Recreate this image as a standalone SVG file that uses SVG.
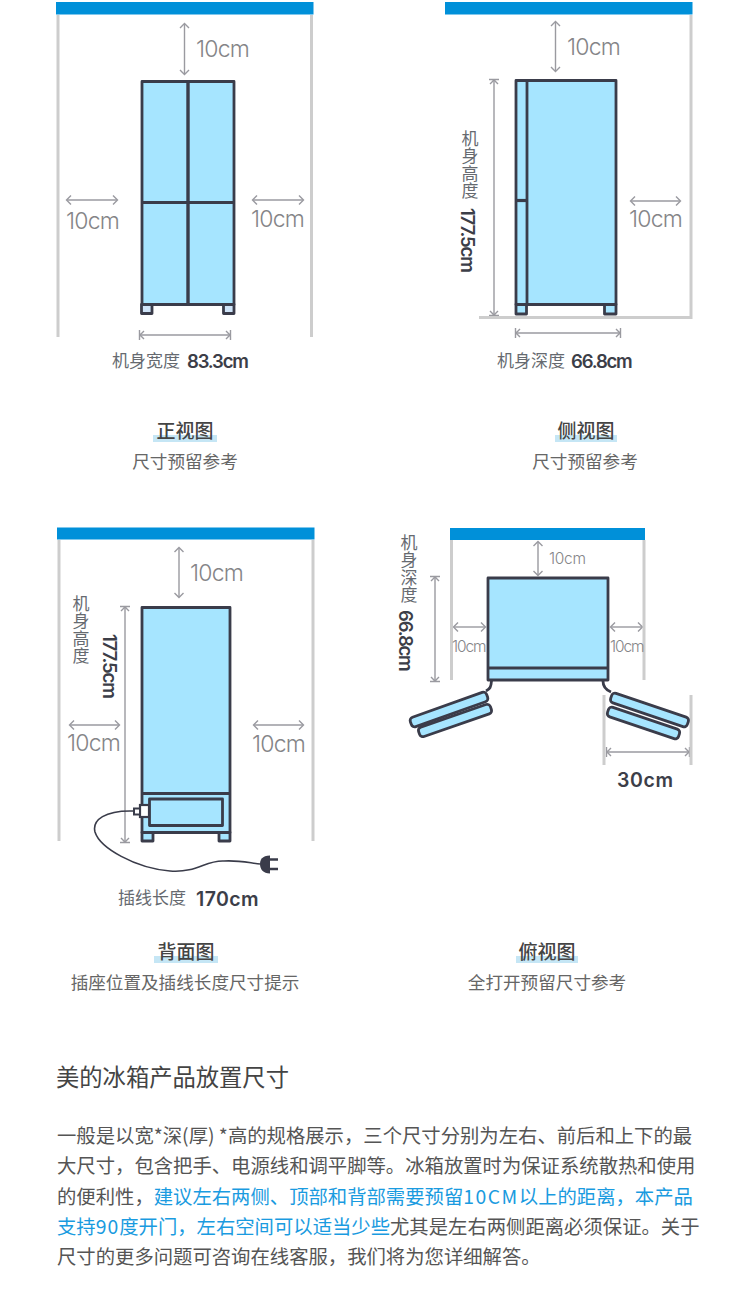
<svg xmlns="http://www.w3.org/2000/svg" width="750" height="1296" viewBox="0 0 750 1296">
<style>
text{font-family:Inter,"Liberation Sans","Noto Sans CJK SC",sans-serif;fill:#8a8a8c}
.cjk{font-family:"Noto Sans CJK SC",sans-serif}
.m{font-size:23px;letter-spacing:-.8px;font-weight:300;fill:#858588}
.s{font-size:15.500px;font-weight:300;fill:#858588}
.cap{font-size:17px;fill:#666a70}
.dim{font-size:18.500px;font-weight:600;fill:#3c3e48;letter-spacing:-1.200px}
.vl{font-size:17px;fill:#666a70;font-family:"Noto Sans CJK SC",sans-serif;writing-mode:vertical-rl;letter-spacing:.5px}
.ti{font-size:19px;font-weight:500;fill:#444;font-family:"Noto Sans CJK SC",sans-serif;text-anchor:middle}
.su{font-size:17.600px;fill:#666;font-family:"Noto Sans CJK SC",sans-serif;text-anchor:middle}
.b{font-size:19.350px;fill:#555;font-family:"Noto Sans CJK SC",sans-serif}
.bl{fill:#1a9be0}
.bar{fill:#0090d9}
.wall{stroke:#cdcdcd;stroke-width:3;fill:none}
.f{fill:#a6e5ff;stroke:#3a3c4a;stroke-width:2.800;stroke-linejoin:round}
.ln{stroke:#3a3c4a;stroke-width:2.800;fill:none}
.foot{fill:#cfe4f8;stroke:#3a3c4a;stroke-width:2.800;stroke-linejoin:round}
.a{stroke:#9a9aa0;stroke-width:1.400;fill:none;marker-start:url(#ah);marker-end:url(#ah)}
.t{stroke:#9a9aa0;stroke-width:1.400;fill:none;marker-start:url(#tb);marker-end:url(#tb)}
.hl{fill:#c5e6f5}
</style>
<defs>
<marker id="ah" markerUnits="userSpaceOnUse" markerWidth="10" markerHeight="12" refX="8" refY="6" orient="auto-start-reverse"><path d="M4 1.500L8.500 6L4 10.500" fill="none" stroke="#9a9aa0" stroke-width="1.400"/></marker>
<marker id="tb" markerUnits="userSpaceOnUse" markerWidth="10" markerHeight="12" refX="8" refY="6" orient="auto-start-reverse"><path d="M4 2L8 6L4 10M8.500 1V11" fill="none" stroke="#9a9aa0" stroke-width="1.400"/></marker>
</defs>
<rect width="750" height="1296" fill="#fff"/>

<g id="connectors">
<path class="a" d="M184.500 24V74"/>
<path class="a" d="M67 200H117"/>
<path class="a" d="M253 200H303"/>
<path class="t" d="M140 335H230"/>
<path class="a" d="M555.500 22V71"/>
<path class="a" d="M631 201H680"/>
<path class="t" d="M494 80V315"/>
<path class="t" d="M516 333H620"/>
<path class="a" d="M179 548V597"/>
<path class="a" d="M70 725H119"/>
<path class="a" d="M254 725H303"/>
<path class="t" d="M125 607V842"/>
<path class="a" d="M538 542V575"/>
<path class="a" d="M454 627H485"/>
<path class="a" d="M611 627H642"/>
<path class="t" d="M435 577V681"/>
<path class="t" d="M607 752H689"/>
</g>

<g id="front-view">
<rect class="bar" x="56" y="2" width="257.500" height="12.500"/>
<path class="wall" d="M58 15V337M311.500 15V337"/>
<rect class="f" x="142" y="81.500" width="92" height="223"/>
<path class="ln" d="M142 202.500H234"/>
<path class="ln" style="stroke-width:3.400" d="M188 81.500V304.500"/>
<rect class="foot" x="141.500" y="304.500" width="10.500" height="9"/>
<rect class="foot" x="223.500" y="304.500" width="10.500" height="9"/>
<text class="m" x="196" y="57">10cm</text>
<text class="m" x="66" y="229">10cm</text>
<text class="m" x="251" y="227">10cm</text>
<text x="112" y="367" class="cap cjk">机身宽度</text>
<text x="187" y="368" class="dim">83.3cm</text>
<rect class="hl" x="153" y="435" width="64" height="7"/>
<text x="185" y="438" class="ti">正视图</text>
<text x="185" y="468" class="su">尺寸预留参考</text>
</g>

<g id="side-view">
<rect class="bar" x="445" y="2" width="247.500" height="12.500"/>
<path class="wall" d="M691 15V317.500H479"/>
<rect class="f" x="516" y="80.500" width="100" height="224"/>
<path class="ln" d="M527 80.500V304.500"/>
<path class="ln" style="stroke-width:3.200" d="M516 200.500H527"/>
<rect class="f" x="516" y="304.500" width="10.500" height="9.500"/>
<rect class="f" x="604.500" y="304.500" width="11.500" height="9.500"/>
<text class="m" x="567" y="55">10cm</text>
<text class="m" x="629" y="227">10cm</text>
<text class="vl" x="470" y="130">机身高度</text>
<text class="dim" transform="translate(461 208) rotate(90)">177.5cm</text>
<text x="497" y="367" class="cap cjk">机身深度</text>
<text x="571" y="368" class="dim">66.8cm</text>
<rect class="hl" x="555" y="435" width="62" height="7"/>
<text x="586" y="438" class="ti">侧视图</text>
<text x="585" y="468" class="su">尺寸预留参考</text>
</g>

<g id="back-view">
<rect class="bar" x="57" y="527.500" width="257.500" height="12"/>
<path class="wall" d="M59 540V841M313 540V841"/>
<rect class="f" x="142" y="607.500" width="88" height="225"/>
<path class="ln" d="M142 793.500H230"/>
<rect class="f" x="149.500" y="799" width="73" height="26.500"/>
<rect x="140" y="805" width="9" height="12" fill="#fff" stroke="#3a3c4a" stroke-width="2.200"/>
<rect x="134" y="808.500" width="6" height="6" fill="#fff" stroke="#3a3c4a" stroke-width="2"/>
<rect class="f" x="142" y="832.500" width="11" height="8.500"/>
<rect class="f" x="219" y="832.500" width="11" height="8.500"/>
<path d="M134 811C105 810 92 820 95 832C100 848 135 868 170 871C198 873 205 860 224 861C238 860 250 863 260 864" fill="none" stroke="#3a3c4a" stroke-width="1.600"/>
<path d="M270 855.500C262 855.500 260 860 260 864C260 869 263 873.500 270 873.500Z" fill="#3a3c4a"/>
<path d="M270 859.500H278M270 869H278" stroke="#3a3c4a" stroke-width="2.400"/>
<text class="m" x="190" y="581">10cm</text>
<text class="m" x="67" y="751">10cm</text>
<text class="m" x="252" y="752">10cm</text>
<text class="vl" x="81" y="595">机身高度</text>
<text class="dim" transform="translate(103 634) rotate(90)">177.5cm</text>
<text x="118" y="904" class="cap cjk">插线长度</text>
<text x="196" y="906" class="dim" style="font-size:19.500px;letter-spacing:.4px">170cm</text>
<rect class="hl" x="154" y="956" width="64" height="7"/>
<text x="186" y="959" class="ti">背面图</text>
<text x="185" y="989" class="su">插座位置及插线长度尺寸提示</text>
</g>

<g id="top-view">
<rect class="bar" x="450" y="528" width="195" height="12"/>
<path class="wall" d="M451.500 540V680M644 540V680"/>
<path class="wall" d="M604 695V765M691 695V765"/>
<rect class="f" x="488" y="578" width="120" height="102"/>
<path class="ln" d="M488 668H608"/>
<path class="ln" d="M491.500 681C491 687 490 689 486 691M603 681C603 687 606 690 611 692"/>
<rect class="f" x="-38" y="-5" width="76" height="10" rx="3.500" transform="translate(455 720.500) rotate(-19.100)"/>
<rect class="f" x="-40.500" y="-5" width="81" height="10" rx="3.500" transform="translate(449 709.500) rotate(-19.600)"/>
<rect class="f" x="-37.500" y="-5" width="75" height="10" rx="3.500" transform="translate(643.500 723) rotate(18.700)"/>
<rect class="f" x="-40.500" y="-5" width="81" height="10" rx="3.500" transform="translate(649.500 710) rotate(18.700)"/>
<text class="s" x="549" y="564" style="letter-spacing:-.3px">10cm</text>
<text class="s" x="452" y="652" style="letter-spacing:-1.100px">10cm</text>
<text class="s" x="610" y="652" style="letter-spacing:-1.100px">10cm</text>
<text class="vl" x="409" y="534">机身深度</text>
<text class="dim" transform="translate(399 610) rotate(90)">66.8cm</text>
<text x="617" y="787" class="dim" style="font-size:19.500px;letter-spacing:.6px">30cm</text>
<rect class="hl" x="516" y="956" width="62" height="7"/>
<text x="547" y="959" class="ti">俯视图</text>
<text x="547" y="989" class="su">全打开预留尺寸参考</text>
</g>

<g id="description">
<text x="56" y="1086" class="cjk" style="font-size:23.300px;fill:#444">美的冰箱产品放置尺寸</text>
<text x="57" y="1143" class="b">一般是以宽*深(厚) *高的规格展示，三个尺寸分别为左右、前后和上下的最</text>
<text x="57" y="1173" class="b">大尺寸，包含把手、电源线和调平脚等。冰箱放置时为保证系统散热和使用</text>
<text x="57" y="1204" class="b">的便利性，<tspan class="bl">建议左右两侧、顶部和背部需要预留<tspan style="letter-spacing:1.500px">10CM</tspan>以上的距离，本产品</tspan></text>
<text x="57" y="1234" class="b"><tspan class="bl">支持<tspan style="letter-spacing:1px">90</tspan>度开门，左右空间可以适当少些</tspan>尤其是左右两侧距离必须保证。关于</text>
<text x="57" y="1264" class="b">尺寸的更多问题可咨询在线客服，我们将为您详细解答。</text>
</g>
</svg>
